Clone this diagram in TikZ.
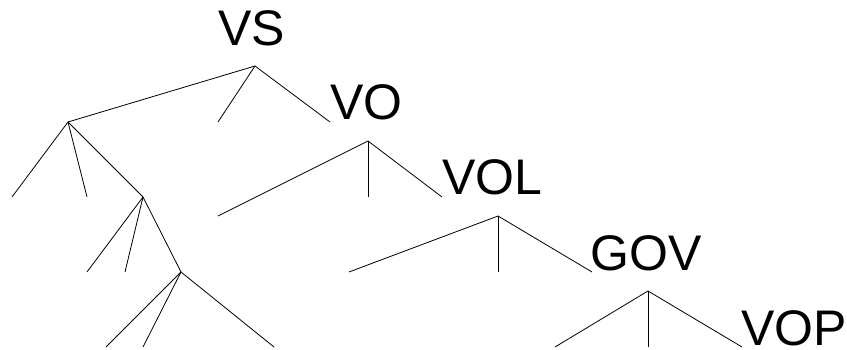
\documentclass[tikz,border=0pt]{standalone}
\usepackage{fontspec}
\setmainfont{Liberation Sans}
\begin{document}
\begin{tikzpicture}[x=1pt,y=-1pt,
  branch/.style={line width=0.8pt,black},
  lbl/.style={anchor=base west,inner sep=0pt,font=\fontsize{50}{50}\selectfont}]
\useasboundingbox (0,0) rectangle (847,350);
% labels
\node[lbl] (vs)  at (218,46)  {VS};
\node[lbl] (vo)  at (330,120) {VO};
\node[lbl] (vol) at (442,195) {VOL};
\node[lbl] (gov) at (590,270) {GOV};
\node[lbl] (vop) at (741,345) {VOP};
% branching points
\coordinate (r)  at (255,66);
\coordinate (a)  at (68,122);
\coordinate (b)  at (143,197);
\coordinate (c)  at (181,272);
\coordinate (o)  at (368,141);
\coordinate (l)  at (498,216);
\coordinate (g)  at (648,291);
% free ends
\coordinate (r1) at (218,122);
\coordinate (r2) at (330,122);
\coordinate (a1) at (12,197);
\coordinate (a2) at (87,197);
\coordinate (b1) at (87,272);
\coordinate (b2) at (125,272);
\coordinate (c1) at (106,347);
\coordinate (c2) at (143,347);
\coordinate (c3) at (274,347);
\coordinate (o1) at (218,216);
\coordinate (o2) at (368,197);
\coordinate (o3) at (442,197);
\coordinate (l1) at (349,272);
\coordinate (l2) at (498,272);
\coordinate (l3) at (592,272);
\coordinate (g1) at (555,347);
\coordinate (g2) at (648,347);
\coordinate (g3) at (742,347);
% branches
\draw[branch] (r) -- (a);
\draw[branch] (r) -- (r1);
\draw[branch] (r) -- (r2);
\draw[branch] (a) -- (a1);
\draw[branch] (a) -- (a2);
\draw[branch] (a) -- (b);
\draw[branch] (b) -- (b1);
\draw[branch] (b) -- (b2);
\draw[branch] (b) -- (c);
\draw[branch] (c) -- (c1);
\draw[branch] (c) -- (c2);
\draw[branch] (c) -- (c3);
\draw[branch] (o) -- (o1);
\draw[branch] (o) -- (o2);
\draw[branch] (o) -- (o3);
\draw[branch] (l) -- (l1);
\draw[branch] (l) -- (l2);
\draw[branch] (l) -- (l3);
\draw[branch] (g) -- (g1);
\draw[branch] (g) -- (g2);
\draw[branch] (g) -- (g3);
\end{tikzpicture}
\end{document}
